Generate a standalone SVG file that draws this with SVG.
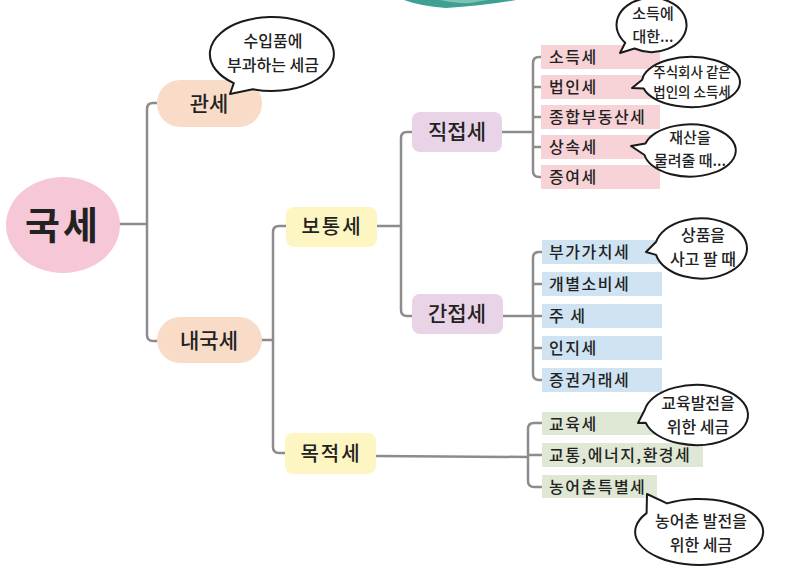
<svg xmlns="http://www.w3.org/2000/svg" width="810" height="567" viewBox="0 0 810 567">
<style>
text{font-family:"Noto Sans CJK KR","Noto Sans",sans-serif;fill:#222;}
.lv1{font-size:21px;text-anchor:middle;font-weight:500;}
.lv2{font-size:20px;text-anchor:middle;font-weight:500;letter-spacing:2px;}
.item{font-size:16px;font-weight:500;letter-spacing:1.5px;}
.bt{font-size:16px;text-anchor:middle;font-weight:500;}
.bsm{font-size:15px;text-anchor:middle;font-weight:500;}
.bts{font-size:13.5px;text-anchor:middle;font-weight:500;}
.conn{fill:none;stroke:#8c8c8c;stroke-width:2.5;stroke-linecap:round;}
.bub{fill:#fff;stroke:#1a1a1a;stroke-width:2;stroke-linejoin:round;}
.pk{fill:#f7d3d7;} .bl{fill:#cfe3f3;} .gr{fill:#dfe8d4;}
</style>
<g id="deco">
<path d="M404,0 Q420,6 446,8 Q482,6 516,0 Z" fill="#3f9f92"/>
<path d="M440,0 Q455,4 470,3 Q480,1 488,0 Z" fill="#7cc3b6"/>
</g>
<g id="connectors">
<path class="conn" d="M120,224 H147"/>
<path class="conn" d="M158,103 H153 Q147,103 147,109 V335 Q147,341 153,341 H158"/>
<path class="conn" d="M262,340 H273"/>
<path class="conn" d="M286,226 H279 Q273,226 273,232 V447 Q273,453 279,453 H285"/>
<path class="conn" d="M377,226 H401"/>
<path class="conn" d="M412,132 H407 Q401,132 401,138 V310 Q401,316 407,316 H412"/>
<path class="conn" d="M502,132 H533"/>
<path class="conn" d="M541,57 H539 Q533,57 533,63 V171 Q533,177 539,177 H541 M533,87 H541 M533,117 H541 M533,147 H541"/>
<path class="conn" d="M503,316 H533"/>
<path class="conn" d="M542,252 H539 Q533,252 533,258 V374 Q533,380 539,380 H542 M533,284 H542 M533,316 H542 M533,348 H542"/>
<path class="conn" d="M376,456 L528,457"/>
<path class="conn" d="M542,423 H534 Q528,423 528,429 V481 Q528,487 534,487 H542 M528,455 H542"/>
</g>
<g id="root">
<ellipse cx="63" cy="225" rx="57" ry="48" fill="#f5c7d7"/>
<text x="63" y="239" style="font-size:38px;text-anchor:middle;font-weight:700;letter-spacing:3px">국세</text>
</g>
<g id="gwanse">
<rect x="157" y="80" width="105" height="47" rx="23" fill="#f9dcc8"/>
<text class="lv1" x="209" y="111">관세</text>
</g>
<g id="naegukse">
<rect x="157" y="317" width="105" height="46" rx="23" fill="#f9dcc8"/>
<text class="lv1" x="209" y="348">내국세</text>
</g>
<g id="botongse">
<rect x="286" y="207" width="91" height="40" rx="8" fill="#fdf6c2"/>
<text class="lv2" x="332" y="234">보통세</text>
</g>
<g id="mokjeokse">
<rect x="285" y="433" width="91" height="41" rx="8" fill="#fdf6c2"/>
<text class="lv2" x="331" y="461">목적세</text>
</g>
<g id="jikjeopse">
<rect x="412" y="112" width="90" height="40" rx="8" fill="#e9d3e6"/>
<text class="lv1" x="457" y="139">직접세</text>
</g>
<g id="ganjeopse">
<rect x="412" y="294" width="91" height="40" rx="8" fill="#e9d3e6"/>
<text class="lv1" x="457" y="321">간접세</text>
</g>
<g id="pink-items">
<rect class="pk" x="541" y="45" width="119" height="24"/><text class="item" x="549" y="63">소득세</text>
<rect class="pk" x="541" y="75" width="119" height="24"/><text class="item" x="549" y="93">법인세</text>
<rect class="pk" x="541" y="105" width="119" height="24"/><text class="item" x="549" y="123">종합부동산세</text>
<rect class="pk" x="541" y="135" width="119" height="24"/><text class="item" x="549" y="153">상속세</text>
<rect class="pk" x="541" y="165" width="119" height="24"/><text class="item" x="549" y="183">증여세</text>
</g>
<g id="blue-items">
<rect class="bl" x="542" y="240" width="120" height="24"/><text class="item" x="549" y="258">부가가치세</text>
<rect class="bl" x="542" y="272" width="120" height="24"/><text class="item" x="549" y="290">개별소비세</text>
<rect class="bl" x="542" y="304" width="120" height="24"/><text class="item" x="549" y="322">주 세</text>
<rect class="bl" x="542" y="336" width="120" height="24"/><text class="item" x="549" y="354">인지세</text>
<rect class="bl" x="542" y="368" width="120" height="24"/><text class="item" x="549" y="386">증권거래세</text>
</g>
<g id="green-items">
<rect class="gr" x="542" y="412" width="115" height="23"/><text class="item" x="549" y="430">교육세</text>
<rect class="gr" x="542" y="443" width="161" height="24"/><text class="item" x="549" y="461">교통,에너지,환경세</text>
<rect class="gr" x="542" y="475" width="115" height="23"/><text class="item" x="549" y="493">농어촌특별세</text>
</g>
<g id="bubble-gwanse">
<path class="bub" d="M252.8,89.2 L230,94 L233.8,83.2 A62,37 0 1 1 252.8,89.2 Z"/>
<text class="bt" x="273" y="47">수입품에</text>
<text class="bt" x="273" y="71">부과하는 세금</text>
</g>
<g id="bubble-sodeuk">
<path class="bub" d="M634.5,48.5 L620,53 L625.2,42.7 A35,27 0 1 1 634.5,48.5 Z"/>
<text class="bsm" x="653" y="19">소득에</text>
<text class="bsm" x="653" y="42">대한...</text>
</g>
<g id="bubble-beobin">
<path class="bub" d="M643.7,88.5 L632,88 L642.2,79.8 A49,25 0 1 1 643.7,88.5 Z"/>
<text class="bts" x="692" y="77">주식회사 같은</text>
<text class="bts" x="692" y="97">법인의 소득세</text>
</g>
<g id="bubble-sangsok">
<path class="bub" d="M644.5,155 L631,146 L645.5,143.5 A46,26 0 1 1 644.5,155 Z"/>
<text class="bsm" x="690" y="143">재산을</text>
<text class="bsm" x="690" y="166">물려줄 때...</text>
</g>
<g id="bubble-bugachi">
<path class="bub" d="M656.1,254.9 L646,252 L656.2,241.7 A46,30 0 1 1 656.1,254.9 Z"/>
<text class="bt" x="703" y="241">상품을</text>
<text class="bt" x="703" y="265">사고 팔 때</text>
</g>
<g id="bubble-gyoyuk">
<path class="bub" d="M645.8,422.8 L638,423 L644.8,409.8 A52,30 0 1 1 645.8,422.8 Z"/>
<text class="bt" x="698" y="409">교육발전을</text>
<text class="bt" x="698" y="433">위한 세금</text>
</g>
<g id="bubble-nongeochon">
<path class="bub" d="M667,503.4 L647,494 L646.6,513.1 A64,33 0 1 0 667,503.4 Z"/>
<text class="bt" x="701" y="527">농어촌 발전을</text>
<text class="bt" x="701" y="551">위한 세금</text>
</g>
</svg>
